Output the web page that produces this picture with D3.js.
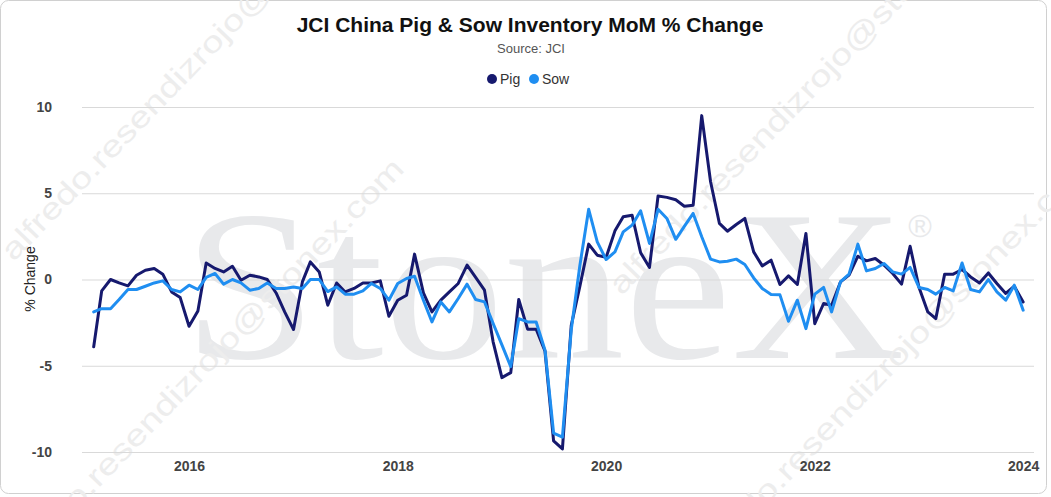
<!DOCTYPE html>
<html>
<head>
<meta charset="utf-8">
<script src="https://cdn.jsdelivr.net/npm/d3@7"></script>
<style>
  body { margin: 0; background: #fff; }
  text { font-family: "Liberation Sans", Arial, sans-serif; }
</style>
</head>
<body>
<div id="chart"></div>
<script>
// Monthly % change, Feb 2015 .. Jan 2024
var pigValues = [
  -3.9, -0.66, 0.0, -0.2, -0.37, 0.25, 0.54, 0.64, 0.31, -0.72, -1.05,
  -2.71, -1.82, 0.96, 0.64, 0.44, 0.77, -0.04, 0.25, 0.15, 0.0, -0.78, -1.88, -2.9,
  -0.14, 1.02, 0.44, -1.49, -0.2, -0.72, -0.52, -0.2, -0.2, -0.08, -2.13, -1.2,
  -0.91, 1.47, -0.78, -1.88, -1.2, -0.72, -0.23, 0.83, 0.12, -0.62, -3.6, -5.69,
  -5.4, -1.16, -2.88, -2.88, -4.15, -9.35, -9.82, -2.65, -0.4, 2.05, 1.41, 1.28,
  2.82, 3.64, 3.73, 1.55, 0.7, 4.84, 4.76, 4.62, 4.25, 4.31, 9.5, 5.67,
  3.25, 2.8, 3.19, 3.54, 1.6, 0.79, 1.12, -0.29, 0.21, -0.29, 2.67, -2.56,
  -1.39, -1.49, -0.14, 0.25, 1.35, 1.08, 1.22, 0.83, 0.35, -0.27, 1.93, -0.45,
  -1.88, -2.27, 0.31, 0.31, 0.58, 0.15, -0.2, 0.38, -0.23, -0.81, -0.39, -1.3
];
var sowValues = [
  -1.88, -1.69, -1.69, -1.16, -0.58, -0.58, -0.39, -0.2, -0.08, -0.58, -0.72,
  -0.33, -0.58, 0.12, 0.35, -0.27, 0.0, -0.2, -0.62, -0.52, -0.2, -0.52, -0.52, -0.43,
  -0.52, 0.0, 0.0, -0.7, -0.43, -0.85, -0.85, -0.66, -0.23, -0.52, -1.2, -0.23,
  0.06, 0.19, -1.2, -2.46, -1.3, -1.88, -1.1, -0.27, -1.16, -1.3, -2.54, -3.79,
  -5.05, -2.27, -2.46, -2.46, -4.1, -8.9, -9.14, -2.9, 0.8, 4.07, 2.18, 1.16,
  1.6, 2.76, 3.15, 3.98, 2.09, 4.07, 3.54, 2.33, 3.08, 3.83, 2.48, 1.18,
  1.02, 1.06, 1.18, 0.87, 0.09, -0.52, -0.87, -0.89, -2.42, -1.2, -2.85, -0.85,
  -0.46, -1.88, -0.14, 0.31, 2.05, 0.5, 0.64, 0.93, 0.44, 0.31, 0.7, -0.46,
  -0.58, -0.85, -0.46, -0.66, 0.96, -0.58, -0.72, 0.0, -0.72, -1.2, -0.33, -1.78
];
var firstMonth = { year: 2015, month: 1 };  // Feb 2015
var yearTicks = [2016, 2018, 2020, 2022, 2024];
var yTicks = [-10, -5, 0, 5, 10];
var seriesNames = ["Pig", "Sow"];
var seriesColors = ["#16196e", "#1f8ef1"];

var months = pigValues.map(function(d, i) {
  return new Date(firstMonth.year, firstMonth.month + i, 1);
});

var svgWidth = 1051, svgHeight = 497;
var margin = { top: 107, right: 17, bottom: 45, left: 82 };
var width = svgWidth - margin.left - margin.right;
var height = svgHeight - margin.top - margin.bottom;

var svg = d3.select("#chart").append("svg")
  .attr("width", svgWidth)
  .attr("height", svgHeight);

// outer frame
svg.append("rect")
  .attr("x", 0.5).attr("y", 0.5)
  .attr("width", 1046).attr("height", 493)
  .attr("rx", 8)
  .attr("fill", "#fff")
  .attr("stroke", "#d0d0d0");

// scales
var xScale = d3.scaleTime()
  .domain([new Date(2014, 11, 22), new Date(2024, 1, 8)])
  .range([0, width]);
var yScale = d3.scaleLinear()
  .domain([-10, 10])
  .range([height, 0]);

// StoneX logo watermark (behind everything)
var logo = svg.append("g").attr("fill", "#e8e9eb");
logo.append("text")
  .attr("x", 183).attr("y", 358)
  .attr("textLength", 722)
  .attr("lengthAdjust", "spacingAndGlyphs")
  .style("font-family", "'Liberation Serif', 'DejaVu Serif', serif")
  .style("font-size", "215px")
  .text("StoneX");
logo.append("text")
  .attr("x", 920).attr("y", 237)
  .attr("text-anchor", "middle")
  .style("font-size", "32px")
  .text("®");

// email watermarks
var marks = [[204, 50], [200, 368], [812, 84], [890, 362]];
svg.append("g").selectAll("text")
  .data(marks)
  .enter()
  .append("text")
  .attr("transform", d => `translate(${d[0]},${d[1]}) rotate(-46)`)
  .attr("text-anchor", "middle")
  .attr("dy", "0.35em")
  .attr("fill", "#ededed")
  .attr("textLength", 570)
  .attr("lengthAdjust", "spacingAndGlyphs")
  .style("font-size", "30px")
  .text("alfredo.resendizrojo@stonex.com");

var chartGroup = svg.append("g")
  .attr("transform", `translate(${margin.left}, ${margin.top})`);

// gridlines
chartGroup.append("g")
  .call(d3.axisLeft(yScale).tickValues(yTicks).tickSize(-width).tickFormat(""))
  .call(g => g.select(".domain").remove())
  .call(g => g.selectAll("line").attr("stroke", "#d9d9d9"));

// axes
chartGroup.append("g")
  .attr("transform", `translate(0, ${height})`)
  .call(d3.axisBottom(xScale)
    .tickValues(yearTicks.map(y => new Date(y, 0, 1)))
    .tickFormat(d3.timeFormat("%Y"))
    .tickSize(0).tickPadding(9))
  .call(g => g.select(".domain").remove())
  .selectAll("text")
  .attr("fill", "#444")
  .style("font-size", "14px")
  .style("font-weight", "bold")
  .style("font-family", "'Liberation Sans', Arial, sans-serif");

chartGroup.append("g")
  .call(d3.axisLeft(yScale).tickValues(yTicks).tickSize(0).tickPadding(30)
    .tickFormat(d => String(d)))
  .call(g => g.select(".domain").remove())
  .selectAll("text")
  .attr("fill", "#444")
  .style("font-size", "14px")
  .style("font-weight", "bold")
  .style("font-family", "'Liberation Sans', Arial, sans-serif");

// lines
var seriesData = [pigValues, sowValues];
var line = d3.line()
  .x((d, i) => xScale(months[i]))
  .y(d => yScale(d));

chartGroup.selectAll("path.series")
  .data(seriesData)
  .enter()
  .append("path")
  .classed("series", true)
  .attr("d", line)
  .attr("fill", "none")
  .attr("stroke", (d, i) => seriesColors[i])
  .attr("stroke-width", 3)
  .attr("stroke-linejoin", "round")
  .attr("stroke-linecap", "round");

// titles
svg.append("text")
  .attr("x", 530).attr("y", 32)
  .attr("text-anchor", "middle")
  .attr("fill", "#111")
  .style("font-size", "21px")
  .style("font-weight", "bold")
  .text("JCI China Pig & Sow Inventory MoM % Change");

svg.append("text")
  .attr("x", 531).attr("y", 53)
  .attr("text-anchor", "middle")
  .attr("fill", "#555")
  .style("font-size", "13px")
  .text("Source: JCI");

// y-axis title
svg.append("text")
  .attr("transform", "rotate(-90)")
  .attr("x", -279).attr("y", 35)
  .attr("text-anchor", "middle")
  .attr("fill", "#222")
  .style("font-size", "14px")
  .text("% Change");

// legend
var legend = svg.append("g").attr("transform", "translate(492, 79)");
var legendX = [0, 42];
seriesNames.forEach(function(name, i) {
  legend.append("circle")
    .attr("cx", legendX[i]).attr("cy", 0)
    .attr("r", 5)
    .attr("fill", seriesColors[i]);
  legend.append("text")
    .attr("x", legendX[i] + 8).attr("y", 5)
    .attr("fill", "#333")
    .style("font-size", "14px")
    .text(name);
});
</script>
</body>
</html>
